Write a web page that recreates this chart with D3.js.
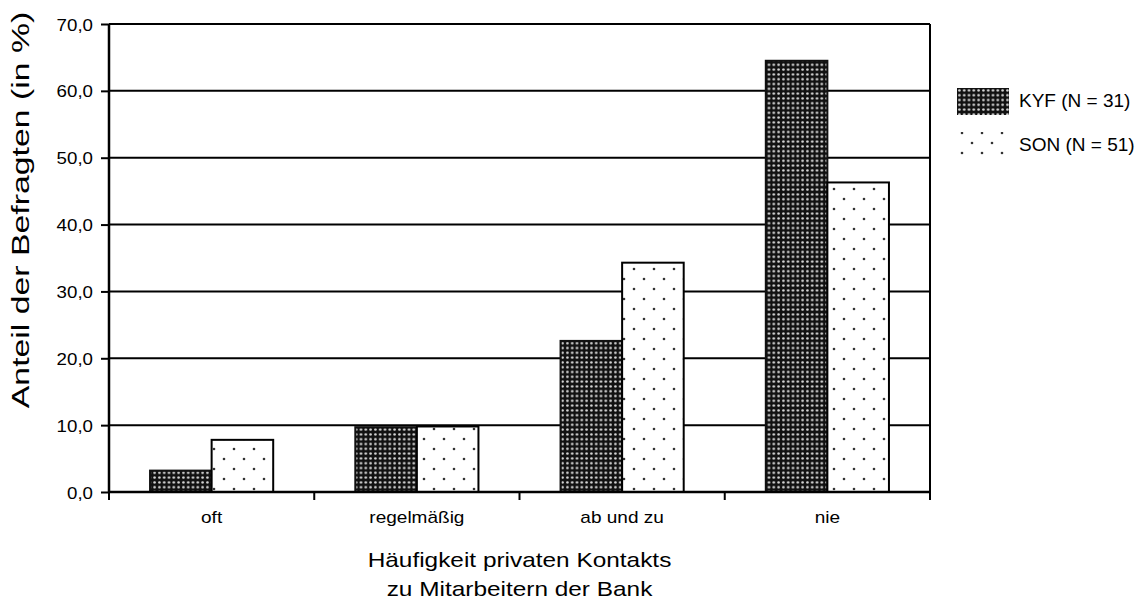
<!DOCTYPE html>
<html>
<head>
<meta charset="utf-8">
<script src="https://cdn.jsdelivr.net/npm/d3@7"></script>
<style>
  body { margin: 0; background: #fff; }
  text { font-family: "Liberation Sans", Arial, sans-serif; fill: #000; }
</style>
</head>
<body>
<div id="chart"></div>
<script>
  const categories = ["oft", "regelmäßig", "ab und zu", "nie"];
  const seriesNames = ["KYF (N = 31)", "SON (N = 51)"];
  const kyfValues = [3.2, 9.7, 22.6, 64.5];
  const sonValues = [7.8, 9.8, 34.3, 46.3];
  const yTicks = [0, 10, 20, 30, 40, 50, 60, 70];

  let w = 1138, h = 601;
  let margin = {left: 109, top: 24, right: 208, bottom: 109};
  let pw = w - margin.left - margin.right;
  let ph = h - margin.top - margin.bottom;

  var svg = d3.select("#chart")
    .append("svg")
    .attr("width", w)
    .attr("height", h);

  // fill patterns
  var defs = svg.append("defs");
  var pDark = defs.append("pattern")
    .attr("id", "dark").attr("patternUnits", "userSpaceOnUse")
    .attr("width", 4.8).attr("height", 4.8);
  pDark.append("rect").attr("width", 4.8).attr("height", 4.8).attr("fill", "#111");
  pDark.append("circle").attr("cx", 2.4).attr("cy", 2.4).attr("r", 1.3).attr("fill", "#ddd");

  var pLight = defs.append("pattern")
    .attr("id", "light").attr("patternUnits", "userSpaceOnUse")
    .attr("width", 20).attr("height", 20);
  pLight.append("rect").attr("width", 20).attr("height", 20).attr("fill", "#fff");
  pLight.append("circle").attr("cx", 5).attr("cy", 5).attr("r", 1.3).attr("fill", "#333");
  pLight.append("circle").attr("cx", 15).attr("cy", 15).attr("r", 1.3).attr("fill", "#333");

  var g = svg.append("g").attr("transform", `translate(${margin.left},${margin.top})`);

  var x = d3.scaleBand().domain(categories).range([0, pw]).paddingInner(0.4).paddingOuter(0.2);
  var x0 = d3.scaleBand().domain(categories).range([0, pw]);
  var xs = d3.scaleBand().domain(seriesNames).range([0, x.bandwidth()]);
  var y = d3.scaleLinear().domain([0, 70]).range([ph, 0]);

  // grid lines
  g.selectAll(".grid").data(yTicks).enter().append("line")
    .attr("x1", 0).attr("x2", pw)
    .attr("y1", d => y(d)).attr("y2", d => y(d))
    .attr("stroke", "#000").attr("stroke-width", 2);
  // right border
  g.append("line").attr("x1", pw).attr("x2", pw).attr("y1", 0).attr("y2", ph)
    .attr("stroke", "#000").attr("stroke-width", 2);

  // bars
  const series = [
    {name: seriesNames[0], values: kyfValues, fill: "url(#dark)", stroke: "#111"},
    {name: seriesNames[1], values: sonValues, fill: "url(#light)", stroke: "#000"}
  ];
  series.forEach(s => {
    g.selectAll(null).data(categories).enter().append("rect")
      .attr("x", d => x(d) + xs(s.name))
      .attr("width", xs.bandwidth())
      .attr("y", (d, i) => y(s.values[i]))
      .attr("height", (d, i) => ph - y(s.values[i]))
      .attr("fill", s.fill)
      .attr("stroke", s.stroke)
      .attr("stroke-width", 2);
  });

  // y axis
  var yAxis = d3.axisLeft(y).tickValues(yTicks).tickSize(8).tickPadding(8)
    .tickFormat(d => d3.format(".1f")(d).replace(".", ","));
  var ya = g.append("g").call(yAxis);
  ya.select(".domain").attr("stroke-width", 2.5).attr("d", `M0,0V${ph}`);
  ya.selectAll(".tick line").attr("stroke-width", 2);
  ya.selectAll(".tick text")
    .style("font-size", "17px")
    .attr("x", null).attr("dy", null)
    .attr("transform", "translate(-16,6) scale(1.1,1)");

  // x axis
  var xa = g.append("g").attr("transform", `translate(0,${ph})`);
  xa.append("line").attr("x1", 0).attr("x2", pw).attr("stroke", "#000").attr("stroke-width", 2.5);
  var bounds = [0].concat(categories.map(c => x0(c) + x0.bandwidth()));
  xa.selectAll(".xt").data(bounds).enter().append("line")
    .attr("x1", d => d).attr("x2", d => d).attr("y1", 0).attr("y2", 8)
    .attr("stroke", "#000").attr("stroke-width", 2);
  xa.selectAll(".xl").data(categories).enter().append("text")
    .attr("transform", d => `translate(${x0(d) + x0.bandwidth() / 2},31) scale(1.12,1)`)
    .attr("text-anchor", "middle")
    .style("font-size", "17px")
    .text(d => d);

  // axis titles
  svg.append("text")
    .attr("transform", `translate(29,210) rotate(-90) scale(1.47,1)`)
    .attr("text-anchor", "middle")
    .style("font-size", "23px")
    .text("Anteil der Befragten (in %)");
  var cx = margin.left + pw / 2;
  svg.append("text")
    .attr("transform", `translate(${cx},567) scale(1.22,1)`)
    .attr("text-anchor", "middle")
    .style("font-size", "20px")
    .text("Häufigkeit privaten Kontakts");
  svg.append("text")
    .attr("transform", `translate(${cx},596) scale(1.22,1)`)
    .attr("text-anchor", "middle")
    .style("font-size", "20px")
    .text("zu Mitarbeitern der Bank");

  // legend
  var leg = svg.append("g").attr("transform", "translate(957,88)");
  series.forEach((s, i) => {
    leg.append("rect").attr("x", 0).attr("y", i * 44).attr("width", 52).attr("height", 27)
      .attr("fill", s.fill);
    leg.append("text").attr("x", 62).attr("y", i * 44 + 19)
      .style("font-size", "19px").text(s.name);
  });
</script>
</body>
</html>
